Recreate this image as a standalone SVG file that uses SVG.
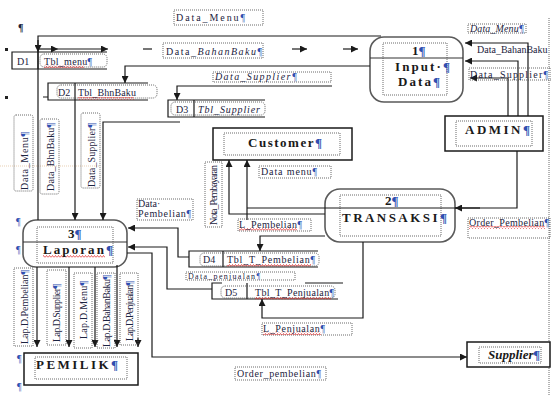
<svg xmlns="http://www.w3.org/2000/svg" width="551" height="396" viewBox="0 0 551 396">
<style>
.ln{fill:none;stroke:#1a1a1a;stroke-width:1.2}
.ds{fill:none;stroke:#1a1a1a;stroke-width:1.2}
.pr{fill:#fff;stroke:#5a5a5a;stroke-width:1.6}
.en{fill:#fff;stroke:#1a1a1a;stroke-width:1.5}
.dt{fill:none;stroke:#444;stroke-width:0.8;stroke-dasharray:1 1}
.t{font-family:"Liberation Serif","Times New Roman",serif;font-size:10px;fill:#1c2340}
.s{font-size:8px}
.b{font-family:"Liberation Serif","Times New Roman",serif;font-size:13px;font-weight:bold;fill:#1a1a1a}
.pc{fill:#2f4fb0}
.wv{fill:url(#wavy)}
</style>
<defs>
<marker id="ah" viewBox="0 0 10 10" refX="10" refY="5" markerWidth="7" markerHeight="7" markerUnits="userSpaceOnUse" orient="auto">
<path d="M0,0 L10,5 L0,10 z" fill="#1a1a1a"/>
</marker>
<pattern id="wavy" width="3" height="3" patternUnits="userSpaceOnUse">
<path d="M0 2.5 L1.5 0.5 L3 2.5" fill="none" stroke="#e02020" stroke-width="0.7"/>
</pattern>
</defs>
<rect width="551" height="396" fill="#fff"/>

<!-- page marks -->
<g id="marks">
<text class="t" x="18" y="31" font-weight="bold">¶</text>
<rect x="5" y="48" width="3" height="3" fill="#222"/>
<rect x="5" y="96" width="3" height="3" fill="#222"/>
<text class="t" x="16" y="225"><tspan class="pc">¶</tspan></text>
<text class="t" x="16" y="253"><tspan class="pc">¶</tspan></text>
<text class="t" x="17" y="362"><tspan class="pc">¶</tspan></text>
<text class="t" x="17" y="390"><tspan class="pc">¶</tspan></text>
<line x1="549" y1="18" x2="549" y2="396" class="dt"/>
<line x1="0" y1="166" x2="100" y2="166" stroke="#d8b080" stroke-width="0.6" stroke-dasharray="1 1"/>
</g>

<!-- processes -->
<g id="p1">
<rect class="pr" x="370" y="37" width="93" height="65" rx="14"/>
<line x1="370" y1="58" x2="463" y2="58" stroke="#333" stroke-width="1.2"/>
<rect class="dt" x="383" y="43" width="64" height="52"/>
<text class="b" x="412" y="55" font-size="12">1<tspan class="pc">¶</tspan></text>
<text class="b" x="395" y="71" font-size="12" textLength="55">Input·<tspan class="pc">¶</tspan></text>
<text class="b" x="398" y="86" font-size="12" textLength="42">Data<tspan class="pc">¶</tspan></text>
</g>
<g id="p2">
<rect class="pr" x="325" y="189" width="130" height="53" rx="15"/>
<rect class="dt" x="340" y="195" width="101" height="41"/>
<text class="b" x="385" y="205">2<tspan class="pc">¶</tspan></text>
<text class="b" x="342" y="222" textLength="105">TRANSAKSI<tspan class="pc">¶</tspan></text>
</g>
<g id="p3">
<rect class="pr" x="23" y="220" width="104" height="47" rx="13"/>
<line x1="23" y1="242" x2="127" y2="242" stroke="#333" stroke-width="1.2"/>
<rect class="dt" x="37" y="227" width="76" height="36"/>
<text class="b" x="68" y="238" font-size="12">3<tspan class="pc">¶</tspan></text>
<rect class="wv" x="43" y="255" width="62" height="3"/>
<text class="b" x="43" y="254" textLength="70">Laporan<tspan class="pc">¶</tspan></text>
</g>

<!-- external entities -->
<g id="customer">
<rect class="en" x="213" y="128" width="139" height="32"/>
<rect class="dt" x="224" y="133" width="116" height="22"/>
<text class="b" x="248" y="147" textLength="74">Customer<tspan class="pc">¶</tspan></text>
</g>
<g id="admin">
<rect class="en" x="445" y="116" width="98" height="35"/>
<rect class="dt" x="456" y="121" width="76" height="25"/>
<text class="b" x="465" y="134" textLength="65">ADMIN<tspan class="pc">¶</tspan></text>
</g>
<g id="pemilik">
<rect class="en" x="24" y="353" width="114" height="32"/>
<rect class="dt" x="35" y="357" width="92" height="22"/>
<text class="b" x="36" y="369" textLength="82">PEMILIK<tspan class="pc">¶</tspan></text>
</g>
<g id="supplier">
<rect class="en" x="467" y="342" width="83" height="25"/>
<rect class="dt" x="479" y="347" width="62" height="16"/>
<text class="b" x="488" y="359" font-size="11" font-style="italic" textLength="52">Supplier<tspan class="pc">¶</tspan></text>
</g>

<!-- data stores -->
<g id="d1">
<path class="ds" d="M107 52 H12 V69 H107 M38 52 V69"/>
<rect class="dt" x="40" y="54" width="67" height="13" rx="4"/>
<text class="t" x="17" y="64.5">D1</text>
<rect class="wv" x="44" y="65" width="40" height="3"/>
<text class="t" x="44" y="64.5" textLength="48">Tbl_menu<tspan class="pc">¶</tspan></text>
</g>
<g id="d2">
<path class="ds" d="M148 83 H48 V100 H148 M75 83 V100 M43 97 H48"/>
<rect class="dt" x="57" y="85" width="100" height="13" rx="4"/>
<text class="t" x="58" y="96">D2</text>
<rect fill="url(#wavy)" x="78" y="97" width="56" height="3"/>
<text class="t" x="78" y="96" textLength="58">Tbl_BhnBaku</text>
</g>
<g id="d3">
<path class="ds" d="M265 100 H168 V117 H265 M194 100 V117"/>
<rect class="dt" x="171" y="102" width="94" height="13" rx="4"/>
<text class="t" x="176" y="113">D3</text>
<text class="t" x="198" y="113" textLength="62" font-style="italic">Tbl_Supplier</text>
</g>
<g id="d4">
<path class="ds" d="M318 251 H189 V267 H318 M223 251 V267"/>
<rect class="dt" x="200" y="253" width="119" height="13" rx="4"/>
<text class="t" x="203" y="263">D4</text>
<rect class="wv" x="227" y="264" width="84" height="3"/>
<text class="t" x="227" y="263" textLength="88">Tbl_T_Pembelian<tspan class="pc">¶</tspan></text>
</g>
<g id="d5">
<path class="ds" d="M222 283 H212 V299 H338 M247 283 V299 M305 283 H343"/>
<rect class="dt" x="221" y="286" width="114" height="12" rx="4"/>
<text class="t" x="225" y="296">D5</text>
<rect class="wv" x="255" y="297" width="76" height="3"/>
<text class="t" x="255" y="296" textLength="79">Tbl_T_Penjualan<tspan class="pc">¶</tspan></text>
</g>

<!-- connectors -->
<g id="connectors">
<path class="ln" d="M381 36 H38 V220"/>
<path class="ln" d="M38 40 V52" marker-end="url(#ah)"/>
<path class="ln" d="M38 49 H58" marker-end="url(#ah)"/>
<path class="ln" d="M58 49 H108" marker-end="url(#ah)"/>
<path class="ln" d="M143 49 H152"/>
<path class="ln" d="M292 49 H307" marker-end="url(#ah)"/>
<path class="ln" d="M343 49 H358" marker-end="url(#ah)"/>
<path class="ln" d="M370 66 H125 V83" marker-end="url(#ah)"/>
<path class="ln" d="M332 86 H177 V100" marker-end="url(#ah)"/>
<path class="ln" d="M75 100 V220" marker-end="url(#ah)"/>
<path class="ln" d="M180 122 H103 V220" marker-end="url(#ah)"/>
<path class="ln" d="M189 257 H178 V228 H128" marker-end="url(#ah)"/>
<path class="ln" d="M212 289 H167 V247 H128" marker-end="url(#ah)"/>
<path class="ln" d="M127 253 H152 V357 H467" marker-end="url(#ah)"/>
<path class="ln" d="M37 267 V347" marker-end="url(#ah)"/>
<path class="ln" d="M69 267 V347" marker-end="url(#ah)"/>
<path class="ln" d="M95 267 V347" marker-end="url(#ah)"/>
<path class="ln" d="M117 265 V347" marker-end="url(#ah)"/>
<path class="ln" d="M138 338 V347" marker-end="url(#ah)"/>
<path class="ln" d="M325 236 H260 V251" marker-end="url(#ah)"/>
<path class="ln" d="M363 242 V318 H262 V299" marker-end="url(#ah)"/>
<path class="ln" d="M325 214 H229 V160" marker-end="url(#ah)"/>
<path class="ln" d="M517 151 V208 H247"/>
<path class="ln" d="M247 220 V160" marker-end="url(#ah)"/>
<path class="ln" d="M480 208 H455" marker-end="url(#ah)"/>
<path class="ln" d="M528 116 V43 H465" marker-end="url(#ah)"/>
<path class="ln" d="M518 116 V61 H465" marker-end="url(#ah)"/>
<path class="ln" d="M508 116 V78 H470" marker-end="url(#ah)"/>
</g>

<!-- flow labels -->
<g id="labels">
<rect class="dt" x="174" y="10" width="89" height="15"/>
<text class="t" x="176" y="21" font-size="11" textLength="69">Data_Menu<tspan class="pc">¶</tspan></text>

<rect class="dt" x="163" y="43" width="100" height="15"/>
<text class="t" x="166" y="55" textLength="96">Data_<tspan font-style="italic">BahanBaku</tspan><tspan class="pc">¶</tspan></text>

<rect class="dt" x="213" y="72" width="118" height="10"/>
<text class="t" x="215" y="80" textLength="82" font-style="italic">Data_Supplier<tspan class="pc">¶</tspan></text>

<rect class="dt" x="14" y="115" width="19" height="76" rx="2"/>
<text class="t" transform="translate(24 161) rotate(-90)" x="0" y="3.5" text-anchor="middle" textLength="58">Data_Menu<tspan class="pc">¶</tspan></text>
<rect class="dt" x="40" y="119" width="19" height="75" rx="2"/>
<text class="t" transform="translate(50 157) rotate(-90)" x="0" y="3.5" text-anchor="middle" textLength="68">Data_BhnBaku<tspan class="pc">¶</tspan></text>
<rect class="dt" x="81" y="113" width="19" height="75" rx="2"/>
<text class="t" transform="translate(91 155) rotate(-90)" x="0" y="3.5" text-anchor="middle" textLength="64">Data_Supplier<tspan class="pc">¶</tspan></text>

<rect class="dt" x="259" y="166" width="72" height="12"/>
<text class="t" x="261" y="175" font-size="9" textLength="56">Data menu<tspan class="pc">¶</tspan></text>

<rect class="dt" x="205" y="162" width="17" height="65"/>
<text class="t" transform="translate(213.5 195) rotate(-90)" x="0" y="3.5" text-anchor="middle" textLength="60">Nota_Pembayaran</text>

<rect class="dt" x="238" y="219" width="73" height="12"/>
<rect class="wv" x="239" y="228" width="58" height="3"/>
<text class="t" x="239" y="228" textLength="63">L_Pembelian<tspan class="pc">¶</tspan></text>

<rect class="dt" x="468" y="218" width="82" height="20"/>
<rect class="wv" x="469" y="226" width="76" height="3"/>
<text class="t" x="469" y="226" textLength="80">Order_Pembelian<tspan class="pc">¶</tspan></text>

<rect class="dt" x="137" y="199" width="56" height="21"/>
<text class="t" x="138" y="207" font-size="9">Data·</text>
<text class="t" x="138" y="217" font-size="9" textLength="53">Pembelian<tspan class="pc">¶</tspan></text>

<rect class="dt" x="186" y="272" width="109" height="8"/>
<text class="t s" x="188" y="279" textLength="72">Data_penjualan<tspan class="pc">¶</tspan></text>

<rect class="dt" x="262" y="323" width="90" height="12"/>
<rect class="wv" x="263" y="332" width="58" height="3"/>
<text class="t" x="263" y="332" textLength="62">L_Penjualan<tspan class="pc">¶</tspan></text>

<rect class="dt" x="235" y="367" width="91" height="13"/>
<text class="t" x="237" y="377" textLength="84">Order_pembelian<tspan class="pc">¶</tspan></text>

<rect class="dt" x="468" y="24" width="58" height="9"/>
<text class="t" x="470" y="32" font-size="9" font-style="italic" textLength="54">Data_Menu<tspan class="pc">¶</tspan></text>
<text class="t" x="477" y="53" font-size="9.5">Data_BahanBaku</text>
<rect class="dt" x="469" y="68" width="82" height="12"/>
<text class="t" x="470" y="78" textLength="78">Data_Supplier<tspan class="pc">¶</tspan></text>

<rect class="dt" x="14" y="268" width="19" height="78"/>
<text class="t" transform="translate(24 307) rotate(-90)" x="0" y="3.5" text-anchor="middle" textLength="74">Lap.D.Pembelian<tspan class="pc">¶</tspan></text>
<rect class="dt" x="47" y="270" width="19" height="75"/>
<text class="t" transform="translate(56.5 313) rotate(-90)" x="0" y="3.5" text-anchor="middle" textLength="58">Lap.D.Supplier<tspan class="pc">¶</tspan></text>
<rect class="dt" x="74" y="273" width="18" height="75"/>
<text class="t" transform="translate(83 310) rotate(-90)" x="0" y="3.5" text-anchor="middle" textLength="58">Lap.D.Menu<tspan class="pc">¶</tspan></text>
<rect class="dt" x="97" y="273" width="18" height="75"/>
<text class="t" transform="translate(106 311) rotate(-90)" x="0" y="3.5" text-anchor="middle" textLength="72">Lap.D.BahanBaku<tspan class="pc">¶</tspan></text>
<rect class="dt" x="120" y="273" width="18" height="72"/>
<text class="t" transform="translate(129 311) rotate(-90)" x="0" y="3.5" text-anchor="middle" textLength="60">Lap.D.Penjualan<tspan class="pc">¶</tspan></text>
</g>
</svg>
